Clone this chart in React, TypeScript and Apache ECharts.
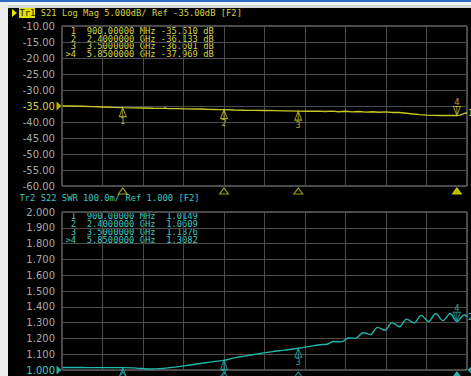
import React, { useEffect, useRef } from "react";
import * as echarts from "echarts";

// ---------- data ----------
const markerFreqs = [900, 2400, 3500, 5850]; // MHz
const s21MarkerVals = [-35.51, -36.133, -36.601, -37.969];
const swrMarkerVals = [1.0149, 1.0609, 1.1376, 1.3082];

const s21Freq = [10, 150, 300, 450, 600, 750, 900, 1050, 1200, 1350, 1500, 1530, 1560, 1700, 1850, 2000, 2150, 2300, 2400, 2550, 2700, 2850, 3000, 3150, 3300, 3500, 3650, 3800, 3900, 4000, 4100, 4200, 4300, 4400, 4500, 4600, 4700, 4800, 4900, 5000, 5100, 5200, 5300, 5400, 5500, 5600, 5700, 5800, 5850, 5900, 5950, 6000];
const s21Db = [-35.0, -35.02, -35.1, -35.2, -35.3, -35.42, -35.51, -35.58, -35.63, -35.7, -35.74, -35.62, -35.76, -35.82, -35.9, -35.95, -36.03, -36.1, -36.133, -36.25, -36.32, -36.36, -36.4, -36.45, -36.52, -36.601, -36.62, -36.6, -36.72, -36.6, -36.8, -36.65, -36.85, -36.7, -36.9, -36.78, -36.95, -36.85, -37.05, -37.05, -37.25, -37.5, -37.7, -37.85, -37.92, -37.95, -37.93, -37.98, -37.969, -37.85, -37.4, -37.1];

const swrFreq = [10, 200, 400, 600, 900, 1100, 1300, 1500, 1700, 1900, 2100, 2300, 2400, 2530, 2700, 2900, 3100, 3300, 3500, 3650, 3820, 3925, 4030, 4140, 4245, 4350, 4460, 4570, 4675, 4785, 4890, 5000, 5105, 5215, 5320, 5430, 5535, 5645, 5750, 5850, 5965, 6000];
const swrVal = [1.016, 1.016, 1.015, 1.015, 1.0149, 1.012, 1.006, 1.01, 1.02, 1.032, 1.044, 1.056, 1.0609, 1.075, 1.088, 1.102, 1.115, 1.126, 1.1376, 1.148, 1.16, 1.163, 1.18, 1.178, 1.203, 1.2, 1.236, 1.224, 1.27, 1.252, 1.3, 1.274, 1.322, 1.298, 1.346, 1.307, 1.356, 1.312, 1.358, 1.3082, 1.35, 1.335];

const header1Rest = "S21 Log Mag 5.000dB/ Ref -35.00dB [F2]";
const header1Tag = "Tr1";
const header2 = "Tr2 S22 SWR 100.0m/ Ref 1.000 [F2]";
const refS21 = -35;
const refSwr = 1.0;

// ---------- style ----------
const YEL = "#c8c826";
const YEL_T = "#d4d444";
const CYA = "#22b6ac";
const CYA_T = "#3ec8c0";
const GRID = "#4c4c4c";
const BORDER = "#929292";
const LABEL = "#a8a8a8";
const MONO = '"DejaVu Sans Mono", "Liberation Mono", monospace';
const FS = 8.8;
const CH = FS * 0.602;

const fmtFreq = (f: number) =>
  f < 1000 ? f.toFixed(5) + " MHz" : (f / 1000).toFixed(7) + " GHz";

const UP = "path://M5,0L10,12L0,12Z M5,0L5,12";
const DOWN = "path://M0,0L10,0L5,12Z M5,0L5,12";
const RIGHT = "path://M0,0L8,5L0,10Z";
const LEFT = "path://M8,0L0,5L8,10Z";

export default function App() {
  const ref = useRef<HTMLDivElement>(null);
  useEffect(() => {
    if (!ref.current) return;
    const chart = echarts.init(ref.current, undefined, { renderer: "svg" });

    const s21Data = s21Freq.map((f, i) => [f, s21Db[i]]);
    const swrData = swrFreq.map((f, i) => [f, swrVal[i]]);

    const readX = 65.5;
    const topLines = markerFreqs.map(
      (f, i) =>
        (i === 3 ? ">" : " ") + (i + 1) + "  " + fmtFreq(f) + " " + s21MarkerVals[i].toFixed(3) + " dB"
    );
    const botLines = markerFreqs.map(
      (f, i) => (i === 3 ? ">" : " ") + (i + 1) + "  " + fmtFreq(f) + "  " + swrMarkerVals[i].toFixed(4)
    );

    const txt = (text: string, x: number, y: number, fill: string) => ({
      type: "text",
      x,
      y,
      silent: true,
      style: { text, fill, font: `${FS}px ${MONO}`, verticalAlign: "middle", align: "left" },
    });
    const block = (lines: string[], x: number, y: number, fill: string, lh: number) => ({
      type: "text",
      x,
      y,
      silent: true,
      style: {
        text: lines.join("\n"),
        fill,
        font: `${FS}px ${MONO}`,
        verticalAlign: "top",
        align: "left",
        lineHeight: lh,
      },
    });

    const topStep = 7.6;
    const botStep = 8.3;

    const graphic: any[] = [
      { type: "rect", shape: { x: 0, y: 0, width: 471, height: 2 }, style: { fill: "#2a6cc4" }, silent: true },
      { type: "rect", shape: { x: 0, y: 2, width: 471, height: 3 }, style: { fill: "#f2f2f2" }, silent: true },
      { type: "rect", shape: { x: 0, y: 5, width: 471, height: 3 }, style: { fill: "#d6d6d6" }, silent: true },
      { type: "rect", shape: { x: 0, y: 2, width: 8, height: 374 }, style: { fill: "#ececec" }, silent: true },
      { type: "polygon", shape: { points: [[12, 9], [17, 13], [12, 17]] }, style: { fill: "#e6e600" }, silent: true },
      { type: "rect", shape: { x: 19, y: 8, width: 16, height: 10 }, style: { fill: "#e0e000" }, silent: true },
      txt(header1Tag, 19.5, 13, "#1a1a00"),
      txt(header1Rest, 19.5 + CH * 4, 13, YEL_T),
      txt(header2, 19.5, 197.5, CYA_T),
      block(topLines, readX, 31 - topStep / 2, YEL_T, topStep),
      block(botLines, readX, 215.5 - botStep / 2, CYA_T, botStep),
    ];

    const yLabelColor = (refv: number, col: string) => (v: any) =>
      Math.abs(Number(v) - refv) < 1e-6 ? col : LABEL;

    const xAx = (gi: number) => ({
      type: "value",
      gridIndex: gi,
      min: 0,
      max: 6000,
      interval: 600,
      axisLine: { show: false },
      axisTick: { show: false },
      axisLabel: { show: false },
      splitLine: { show: true, lineStyle: { color: GRID, width: 1 } },
    });

    const markerLabel = (col: string, pos: string) => ({
      show: true,
      position: pos,
      distance: 0,
      formatter: (p: any) => p.name,
      color: col,
      fontSize: FS,
      fontFamily: MONO,
      lineHeight: 8,
    });

    const option: any = {
      animation: false,
      backgroundColor: "#000",
      graphic,
      grid: [
        { left: 62, top: 26, width: 405, height: 160, show: true, borderColor: BORDER, borderWidth: 1, backgroundColor: "transparent" },
        { left: 62, top: 212, width: 405, height: 158, show: true, borderColor: BORDER, borderWidth: 1, backgroundColor: "transparent" },
      ],
      xAxis: [xAx(0), xAx(1)],
      yAxis: [
        {
          type: "value",
          gridIndex: 0,
          min: -60,
          max: -10,
          interval: 5,
          axisLine: { show: false },
          axisTick: { show: false },
          splitLine: { show: true, lineStyle: { color: GRID, width: 1 } },
          axisLabel: {
            formatter: (v: number) => v.toFixed(2),
            color: yLabelColor(refS21, YEL_T),
            fontSize: 10,
            fontFamily: '"DejaVu Sans", sans-serif',
            margin: 7,
          },
        },
        {
          type: "value",
          gridIndex: 1,
          min: 1.0,
          max: 2.0,
          interval: 0.1,
          axisLine: { show: false },
          axisTick: { show: false },
          splitLine: { show: true, lineStyle: { color: GRID, width: 1 } },
          axisLabel: {
            formatter: (v: number) => Number(v).toFixed(3),
            color: yLabelColor(refSwr, CYA_T),
            fontSize: 10,
            fontFamily: '"DejaVu Sans", sans-serif',
            margin: 7,
          },
        },
      ],
      series: [
        {
          type: "line",
          xAxisIndex: 0,
          yAxisIndex: 0,
          data: s21Data,
          symbol: "none",
          lineStyle: { color: YEL, width: 1.4 },
          endLabel: { show: true, formatter: "1", color: YEL_T, fontSize: FS, fontFamily: MONO, distance: 1 },
          z: 3,
        },
        {
          type: "line",
          xAxisIndex: 1,
          yAxisIndex: 1,
          data: swrData,
          symbol: "none",
          smooth: 0.35,
          lineStyle: { color: CYA, width: 1.4 },
          endLabel: { show: true, formatter: "2", color: CYA_T, fontSize: FS, fontFamily: MONO, distance: 1 },
          z: 3,
        },
        // markers on S21 trace
        {
          type: "scatter",
          xAxisIndex: 0,
          yAxisIndex: 0,
          silent: true,
          z: 5,
          data: markerFreqs.slice(0, 3).map((f, i) => ({ name: String(i + 1), value: [f, s21MarkerVals[i]] })),
          symbol: UP,
          symbolSize: [7, 9],
          symbolOffset: [0, "50%"],
          itemStyle: { color: "rgba(0,0,0,0)", borderColor: YEL, borderWidth: 1 },
          label: markerLabel(YEL_T, "bottom"),
        },
        {
          type: "scatter",
          xAxisIndex: 0,
          yAxisIndex: 0,
          silent: true,
          z: 5,
          data: [{ name: "4", value: [markerFreqs[3], s21MarkerVals[3]] }],
          symbol: DOWN,
          symbolSize: [7, 9],
          symbolOffset: [0, "-50%"],
          itemStyle: { color: "rgba(0,0,0,0)", borderColor: YEL, borderWidth: 1 },
          label: markerLabel(YEL_T, "top"),
        },
        // markers on SWR trace
        {
          type: "scatter",
          xAxisIndex: 1,
          yAxisIndex: 1,
          silent: true,
          z: 5,
          data: markerFreqs.slice(0, 3).map((f, i) => ({ name: String(i + 1), value: [f, swrMarkerVals[i]] })),
          symbol: UP,
          symbolSize: [7, 9],
          symbolOffset: [0, "50%"],
          itemStyle: { color: "rgba(0,0,0,0)", borderColor: CYA, borderWidth: 1 },
          label: markerLabel(CYA_T, "bottom"),
        },
        {
          type: "scatter",
          xAxisIndex: 1,
          yAxisIndex: 1,
          silent: true,
          z: 5,
          data: [{ name: "4", value: [markerFreqs[3], swrMarkerVals[3]] }],
          symbol: DOWN,
          symbolSize: [7, 9],
          symbolOffset: [0, "-50%"],
          itemStyle: { color: "rgba(0,0,0,0)", borderColor: CYA, borderWidth: 1 },
          label: markerLabel(CYA_T, "top"),
        },
        // axis marker triangles
        {
          type: "scatter",
          xAxisIndex: 0,
          yAxisIndex: 0,
          silent: true,
          z: 5,
          data: markerFreqs.map((f, i) => ({
            value: [f, -60],
            itemStyle: i === 3 ? { color: "#e6e600", borderColor: "#e6e600" } : { color: "#000", borderColor: YEL },
          })),
          symbol: "triangle",
          symbolSize: [9, 6],
          symbolOffset: [0, 5],
          itemStyle: { borderWidth: 1 },
        },
        {
          type: "scatter",
          xAxisIndex: 1,
          yAxisIndex: 1,
          silent: true,
          z: 5,
          data: markerFreqs.map((f, i) => ({
            value: [f, 1.0],
            itemStyle: i === 3 ? { color: "#30d8d0", borderColor: "#30d8d0" } : { color: "#000", borderColor: CYA },
          })),
          symbol: "triangle",
          symbolSize: [9, 6],
          symbolOffset: [0, 5],
          itemStyle: { borderWidth: 1 },
        },
        // reference level indicators
        {
          type: "scatter",
          xAxisIndex: 0,
          yAxisIndex: 0,
          silent: true,
          z: 6,
          data: [[0, refS21]],
          symbol: RIGHT,
          symbolSize: [5, 9],
          symbolOffset: [-3, 0],
          itemStyle: { color: "#e6e600" },
        },
        {
          type: "scatter",
          xAxisIndex: 1,
          yAxisIndex: 1,
          silent: true,
          z: 6,
          data: [[0, refSwr]],
          symbol: RIGHT,
          symbolSize: [5, 9],
          symbolOffset: [-3, 0],
          itemStyle: { color: "#30d8d0" },
        },
        {
          type: "scatter",
          xAxisIndex: 1,
          yAxisIndex: 1,
          silent: true,
          z: 6,
          data: [[6000, refSwr]],
          symbol: LEFT,
          symbolSize: [5, 9],
          symbolOffset: [3, 0],
          itemStyle: { color: "#30d8d0" },
        },
      ],
    };

    chart.setOption(option);
    return () => chart.dispose();
  }, []);

  return (
    <div style={{ position: "fixed", left: 0, top: 0, width: 471, height: 376, background: "#000" }}>
      <div ref={ref} style={{ width: 471, height: 376 }} />
    </div>
  );
}
